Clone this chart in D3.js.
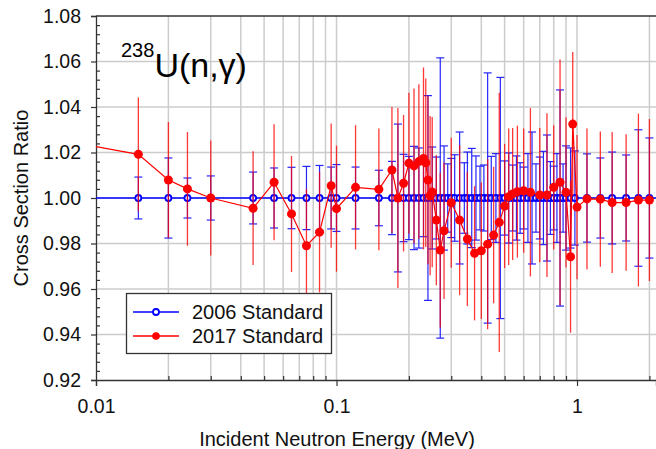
<!DOCTYPE html>
<html><head><meta charset="utf-8">
<script src="https://cdnjs.cloudflare.com/ajax/libs/d3/7.8.5/d3.min.js"></script>
<style>
html,body{margin:0;padding:0;background:#fff;}
svg{display:block;font-family:"Liberation Sans",Arial,sans-serif;}
</style></head>
<body><svg id="chart" width="656" height="449"></svg>
<script>
// ---- data ----
const energy2006 = [0.008,0.015,0.02,0.024,0.03,0.045,0.055,0.065,0.075,0.085,0.095,0.1,0.12,0.15,0.17,0.18,0.19,0.2,0.21,0.22,0.23,0.24,0.25,0.26,0.27,0.28,0.29,0.3,0.31,0.325,0.34,0.35,0.365,0.38,0.395,0.41,0.425,0.44,0.46,0.48,0.5,0.52,0.54,0.56,0.58,0.6,0.625,0.65,0.675,0.7,0.725,0.75,0.775,0.8,0.825,0.85,0.875,0.9,0.94,0.98,1.1,1.25,1.4,1.6,1.8,2.0,2.5];
const ratio2006 = energy2006.map(() => 1.0);
const err2006 = [0.01,0.0092,0.0176,0.0088,0.0097,0.0114,0.0132,0.0135,0.0139,0.0143,0.0136,0.0147,0.0136,0.0122,0.0161,0.0325,0.0192,0.0183,0.0227,0.022,0.017,0.045,0.0224,0.018,0.0616,0.0229,0.015,0.0174,0.019,0.029,0.0155,0.0202,0.0218,0.0185,0.014,0.0145,0.055,0.0183,0.0195,0.053,0.0163,0.0198,0.0145,0.0185,0.0155,0.0136,0.0195,0.029,0.015,0.018,0.0205,0.0277,0.016,0.014,0.0195,0.0475,0.015,0.0229,0.022,0.0207,0.0194,0.0176,0.0202,0.0189,0.030,0.0264,0.02];

const energy2017 = [0.008,0.015,0.02,0.024,0.03,0.045,0.055,0.065,0.075,0.085,0.095,0.1,0.12,0.15,0.17,0.18,0.19,0.2,0.21,0.22,0.23,0.235,0.24,0.245,0.25,0.26,0.27,0.28,0.3,0.325,0.35,0.375,0.4,0.425,0.45,0.475,0.5,0.52,0.54,0.565,0.6,0.64,0.7,0.75,0.8,0.85,0.9,0.94,0.96,1.0,1.1,1.25,1.4,1.6,1.8,2.0];
const ratio2017 = [1.0245,1.0192,1.0079,1.004,1.0,0.9955,1.0069,0.993,0.979,0.985,1.0054,0.9953,1.0047,1.0038,1.0123,1.0,1.0065,1.0153,1.0141,1.016,1.0174,1.0155,1.0079,1.001,1.0026,0.9903,0.9771,0.9856,0.9979,0.9903,0.982,0.9757,0.9768,0.9797,0.9837,0.9893,0.9965,1.0006,1.0018,1.0028,1.0032,1.0025,1.0013,1.0013,1.0047,1.0069,1.0025,0.9742,1.0325,0.996,0.9996,0.9995,0.998,0.998,0.9991,0.9991];
const err2017 = [0.025,0.025,0.0255,0.025,0.0253,0.025,0.0255,0.0255,0.025,0.0265,0.0273,0.0277,0.0273,0.0268,0.0277,0.0396,0.030,0.031,0.034,0.034,0.04,0.037,0.037,0.035,0.033,0.0286,0.034,0.030,0.0286,0.033,0.0295,0.0295,0.030,0.0374,0.030,0.057,0.0273,0.030,0.029,0.029,0.0273,0.037,0.0295,0.036,0.0273,0.054,0.033,0.0334,0.0317,0.0317,0.031,0.0297,0.031,0.030,0.038,0.0356];

const xMajorTicks = [0.01, 0.1, 1];
const xTickLabels = ["0.01", "0.1", "1"];
const xMinorTicks = [0.02,0.03,0.04,0.05,0.06,0.07,0.08,0.09,0.2,0.3,0.4,0.5,0.6,0.7,0.8,0.9,2];
const yTicks = [0.92,0.94,0.96,0.98,1.00,1.02,1.04,1.06,1.08];
const yTickLabels = ["0.92","0.94","0.96","0.98","1.00","1.02","1.04","1.06","1.08"];
const seriesNames = ["2006 Standard", "2017 Standard"];

// ---- chart ----
const svg = d3.select("#chart");
const L = 96, R = 656, T = 16, B = 380;
const x = d3.scaleLog().domain([0.01, 2.13]).range([L, R]);
const y = d3.scaleLinear().domain([0.92, 1.08]).range([B, T]);

svg.append("defs").append("clipPath").attr("id","clip")
  .append("rect").attr("x", L).attr("y", T).attr("width", R - L).attr("height", B - T);

// grid
const grid = svg.append("g");
grid.selectAll("line.v").data(xMinorTicks.concat([0.1, 1])).enter().append("line")
  .attr("x1", d => x(d)).attr("x2", d => x(d)).attr("y1", T).attr("y2", B)
  .attr("stroke", "#cccccc").attr("stroke-width", 1.5);
grid.selectAll("line.h").data(yTicks.slice(1, -1)).enter().append("line")
  .attr("x1", L).attr("x2", R).attr("y1", d => y(d)).attr("y2", d => y(d))
  .attr("stroke", "#cccccc").attr("stroke-width", 1.5);

// axes
svg.append("g").attr("transform", `translate(${L},0)`)
  .call(d3.axisLeft(y).tickValues(yTicks).tickFormat((d, i) => yTickLabels[i]).tickSize(5).tickPadding(10));
const yMinor = d3.range(0.92, 1.0801, 0.004).filter(v => Math.abs(Math.round(v / 0.02) * 0.02 - v) > 1e-6);
svg.append("g").attr("transform", `translate(${L},0)`)
  .call(d3.axisRight(y).tickValues(yMinor).tickFormat("").tickSize(4))
  .call(g => g.select(".domain").remove());
svg.append("g").attr("transform", `translate(0,${B})`)
  .call(d3.axisBottom(x).tickValues(xMajorTicks).tickFormat((d, i) => xTickLabels[i]).tickSize(6).tickPadding(13));
svg.append("g").attr("transform", `translate(0,${B})`)
  .call(d3.axisTop(x).tickValues(xMinorTicks).tickFormat("").tickSize(4))
  .call(g => g.select(".domain").remove());
svg.selectAll(".tick text").attr("font-size", 19.5).attr("fill", "#111")
  .attr("font-family", '"Liberation Sans",Arial,sans-serif');
svg.selectAll(".domain").attr("stroke", "#333").attr("stroke-width", 1.3);
svg.selectAll(".tick line").attr("stroke", "#333").attr("stroke-width", 1.2);
// top frame
svg.append("line").attr("x1", L).attr("x2", R).attr("y1", T).attr("y2", T).attr("stroke", "#333").attr("stroke-width", 1.3);

// titles
svg.append("text").attr("x", 337).attr("y", 446).attr("text-anchor", "middle")
  .attr("font-size", 20).attr("fill", "#111").text("Incident Neutron Energy (MeV)");
svg.append("text").attr("transform", "translate(28,198) rotate(-90)").attr("text-anchor", "middle")
  .attr("font-size", 20).attr("fill", "#111").text("Cross Section Ratio");
const title = svg.append("text").attr("x", 121).attr("y", 77).attr("fill", "#000");
title.append("tspan").attr("font-size", 20).attr("dy", -20).text("238");
title.append("tspan").attr("font-size", 34).attr("dy", 20).text("U(n,\u03b3)");

// data layer
const plot = svg.append("g").attr("clip-path", "url(#clip)");
const d06 = energy2006.map((e, i) => ({e, v: ratio2006[i], s: err2006[i]}));
const d17 = energy2017.map((e, i) => ({e, v: ratio2017[i], s: err2017[i]}));
const line = d3.line().x(d => x(d.e)).y(d => y(d.v));

plot.append("path").datum(d06).attr("d", line).attr("fill", "none").attr("stroke", "#0000ff").attr("stroke-width", 1.5);
plot.selectAll("circle.b").data(d06).enter().append("circle")
  .attr("cx", d => x(d.e)).attr("cy", d => y(d.v)).attr("r", 3)
  .attr("fill", "#fff").attr("stroke", "#0000ff").attr("stroke-width", 1.8);

// blue error bars
const eb = plot.append("g").attr("stroke", "#0000ff").attr("stroke-width", 1.2).attr("opacity", 0.85);
eb.selectAll("line.v").data(d06).enter().append("line")
  .attr("x1", d => x(d.e)).attr("x2", d => x(d.e)).attr("y1", d => y(d.v + d.s)).attr("y2", d => y(d.v - d.s));
eb.selectAll("line.t").data(d06).enter().append("line")
  .attr("x1", d => x(d.e) - 4).attr("x2", d => x(d.e) + 4).attr("y1", d => y(d.v + d.s)).attr("y2", d => y(d.v + d.s));
eb.selectAll("line.bt").data(d06).enter().append("line")
  .attr("x1", d => x(d.e) - 4).attr("x2", d => x(d.e) + 4).attr("y1", d => y(d.v - d.s)).attr("y2", d => y(d.v - d.s));

// red error bars
plot.append("g").attr("stroke", "#ff0000").attr("stroke-width", 1.3).attr("opacity", 0.78)
  .selectAll("line").data(d17).enter().append("line")
  .attr("x1", d => x(d.e)).attr("x2", d => x(d.e)).attr("y1", d => y(d.v + d.s)).attr("y2", d => y(d.v - d.s));

plot.append("path").datum(d17).attr("d", line).attr("fill", "none").attr("stroke", "#ff0000").attr("stroke-width", 1.2);
plot.selectAll("circle.r").data(d17).enter().append("circle")
  .attr("cx", d => x(d.e)).attr("cy", d => y(d.v)).attr("r", 4.5).attr("fill", "#ff0000");

// legend
const lg = svg.append("g");
lg.append("rect").attr("x", 126.5).attr("y", 293.5).attr("width", 205).attr("height", 60)
  .attr("fill", "#fff").attr("stroke", "#333").attr("stroke-width", 1.3);
const items = [
  {name: seriesNames[0], color: "#0000ff", open: true, yy: 312},
  {name: seriesNames[1], color: "#ff0000", open: false, yy: 336}
];
items.forEach(it => {
  lg.append("line").attr("x1", 133).attr("x2", 179).attr("y1", it.yy).attr("y2", it.yy)
    .attr("stroke", it.color).attr("stroke-width", 1.3);
  lg.append("circle").attr("cx", 156).attr("cy", it.yy).attr("r", it.open ? 3 : 3.8)
    .attr("fill", it.open ? "#fff" : it.color).attr("stroke", it.color).attr("stroke-width", it.open ? 1.8 : 0);
  lg.append("text").attr("x", 192).attr("y", it.yy + 7).attr("font-size", 20).attr("fill", "#111").text(it.name);
});
</script></body></html>
